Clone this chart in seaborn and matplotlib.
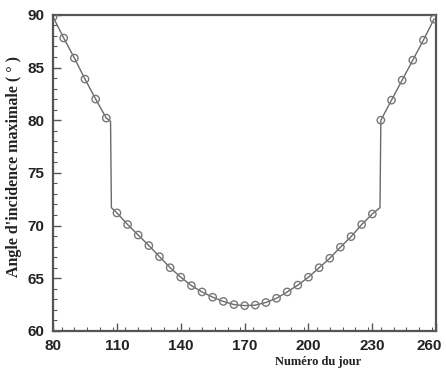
import numpy as np
import pandas as pd
import seaborn as sns
import matplotlib.pyplot as plt
import matplotlib.transforms as mtransforms
from matplotlib.ticker import MultipleLocator

# marked points (every 5 days)
marker_days = [80, 85, 90, 95, 100, 105,
               110, 115, 120, 125, 130, 135, 140, 145, 150, 155, 160, 165, 170,
               175, 180, 185, 190, 195, 200, 205, 210, 215, 220, 225, 230,
               234, 239, 244, 249, 254, 259]
marker_angles = [89.8, 87.8, 85.9, 83.9, 82.0, 80.2,
                 71.2, 70.1, 69.1, 68.1, 67.05, 66.0, 65.1, 64.3, 63.7, 63.2, 62.8, 62.5, 62.4,
                 62.45, 62.7, 63.1, 63.7, 64.35, 65.1, 66.0, 66.9, 67.95, 68.95, 70.1, 71.1,
                 80.0, 81.9, 83.8, 85.7, 87.6, 89.6]

# unmarked break points where the curve jumps
break_days = [107.0, 107.4, 233.6]
break_angles = [79.9, 71.7, 71.7]

line_df = pd.DataFrame({"jour": marker_days + break_days,
                        "angle": marker_angles + break_angles}).sort_values("jour")
pts_df = pd.DataFrame({"jour": marker_days, "angle": marker_angles})

x_ticks = [80, 110, 140, 170, 200, 230, 260]
y_ticks = [60, 65, 70, 75, 80, 85, 90]

sns.set_style("white")
fig = plt.figure(figsize=(4.46, 3.71), dpi=100)
ax = fig.add_axes([0.119, 0.108, 0.859, 0.852])

sns.lineplot(data=line_df, x="jour", y="angle", sort=False, color="#6a6a6a",
             linewidth=1.0, ax=ax, estimator=None)
sns.scatterplot(data=pts_df, x="jour", y="angle", marker="o", s=28,
                facecolor="none", edgecolor="#777777", linewidth=1.0, ax=ax, zorder=3)

ax.set_xlim(80, 260)
ax.set_ylim(60, 90)
ax.set_xticks(x_ticks)
ax.set_yticks(y_ticks)
ax.xaxis.set_minor_locator(MultipleLocator(6))
ax.yaxis.set_minor_locator(MultipleLocator(1))
ax.tick_params(which="both", bottom=True, left=True, top=False, right=False)
ax.tick_params(which="major", direction="in", length=6, width=1, color="#555555",
               labelsize=11, pad=6)
ax.tick_params(which="minor", direction="in", length=3, width=0.8, color="#555555")
for lab in ax.get_xticklabels() + ax.get_yticklabels():
    lab.set_fontfamily("Liberation Sans")
    lab.set_fontweight("bold")
    lab.set_color("#222222")

# last x label sits a bit left of the right spine, like the original
last = ax.get_xticklabels()[-1]
last.set_transform(last.get_transform() +
                   mtransforms.ScaledTranslation(-5 / 72, 0, fig.dpi_scale_trans))

for sp in ax.spines.values():
    sp.set_color("#555555")
    sp.set_linewidth(1.6)

ax.set_xlabel("")
ax.set_ylabel("")
fig.text(0.713, 0.008, "Numéro du jour", fontfamily="Liberation Serif",
         fontweight="bold", fontsize=9, ha="center", va="bottom", color="#222222")
fig.text(0.031, 0.55, "Angle d'incidence maximale ( ° )", fontfamily="Liberation Serif",
         fontweight="bold", fontsize=11.5, rotation=90, ha="center", va="center", color="#222222")

fig.savefig("out.png", dpi=100)
